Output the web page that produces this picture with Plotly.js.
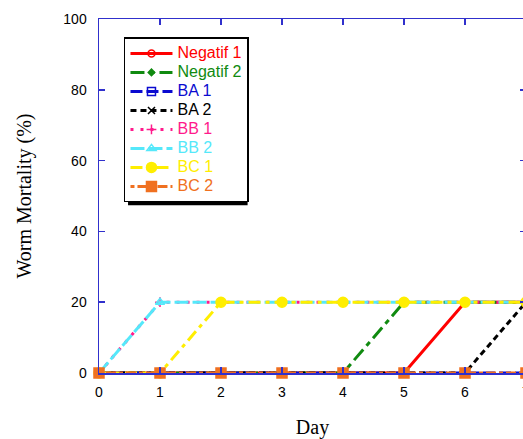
<!DOCTYPE html>
<html>
<head>
<meta charset="utf-8">
<script src="https://cdn.plot.ly/plotly-3.0.1.min.js"></script>
<style>
html,body{margin:0;padding:0;overflow:hidden;background:#fff;}
#chart{width:540px;height:439px;}
</style>
</head>
<body>
<div id="chart"></div>
<script>
const days = [0, 1, 2, 3, 4, 5, 6, 7];
const negatif1 = [0, 0, 0, 0, 0, 0, 20, 20];
const negatif2 = [0, 0, 0, 0, 0, 20, 20, 20];
const ba1 = [0, 0, 0, 0, 0, 0, 0, 0];
const ba2 = [0, 0, 0, 0, 0, 0, 0, 20];
const bb1 = [0, 20, 20, 20, 20, 20, 20, 20];
const bb2 = [0, 20, 20, 20, 20, 20, 20, 20];
const bc1 = [0, 0, 20, 20, 20, 20, 20, 20];
const bc2 = [0, 0, 0, 0, 0, 0, 0, 0];
const seriesNames = ['Negatif 1', 'Negatif 2', 'BA 1', 'BA 2', 'BB 1', 'BB 2', 'BC 1', 'BC 2'];
const yTicks = [0, 20, 40, 60, 80, 100];
const xTicks = [0, 1, 2, 3, 4, 5, 6, 7];

const styles = [
  {color: '#ff0000', dash: 'solid', symbol: 'circle-open', size: 7},
  {color: '#108a10', dash: '14px,5px,5px,5px', symbol: 'diamond', size: 5},
  {color: '#0a0ad0', dash: '12px,4px', symbol: 'square-open', size: 8},
  {color: '#000000', dash: '6px,4px', symbol: 'x-thin-open', size: 7},
  {color: '#ff1a8c', dash: '3px,7px', symbol: 'cross-thin-open', size: 7},
  {color: '#55e8fa', dash: '14px,4px', symbol: 'triangle-up-open', size: 8},
  {color: '#ffee00', dash: '12px,5px,4px,5px', symbol: 'circle', size: 10},
  {color: '#f07020', dash: '4px,3px,10px,3px', symbol: 'square', size: 10}
];
const values = [negatif1, negatif2, ba1, ba2, bb1, bb2, bc1, bc2];

const traces = values.map((v, i) => ({
  x: days, y: v, type: 'scatter', mode: 'lines+markers',
  name: '<span style="font-size:16px;color:' + styles[i].color + '">' + seriesNames[i] + '</span>',
  line: {color: styles[i].color, width: 3, dash: styles[i].dash},
  marker: {color: styles[i].color, symbol: styles[i].symbol, size: styles[i].size,
           line: {color: styles[i].color, width: 1.5}},
  cliponaxis: false
}));

const axisColor = '#3030cc';
const layout = {
  width: 540, height: 439,
  margin: {l: 99, r: 14, t: 19, b: 66},
  paper_bgcolor: '#ffffff', plot_bgcolor: '#ffffff',
  font: {family: 'Arial, Liberation Sans, sans-serif', size: 14, color: '#000'},
  showlegend: true,
  legend: {
    x: 0.0585, y: 0.948, xanchor: 'left', yanchor: 'top',
    bgcolor: '#ffffff', bordercolor: '#000', borderwidth: 1.5,
    font: {family: 'Arial, Liberation Sans, sans-serif', size: 11},
    itemwidth: 42, tracegroupgap: 0
  },
  xaxis: {
    range: [0, 7], tickvals: xTicks, ticktext: xTicks.map(String),
    showgrid: false, zeroline: false,
    showline: true, linecolor: axisColor, linewidth: 1.5, mirror: 'allticks',
    ticks: 'inside', ticklen: 6, tickcolor: axisColor, tickwidth: 1.5,
    ticklabelstandoff: 6,
    tickfont: {size: 14}, title: {text: 'Day', font: {family: 'Times New Roman, Liberation Serif, serif', size: 20}, standoff: 22}
  },
  yaxis: {
    range: [0, 100], tickvals: yTicks, ticktext: yTicks.map(String),
    showgrid: false, zeroline: false,
    showline: true, linecolor: axisColor, linewidth: 1.5, mirror: 'allticks',
    ticks: 'inside', ticklen: 6, tickcolor: axisColor, tickwidth: 1.5,
    ticklabelstandoff: 8,
    tickfont: {size: 14}, title: {text: 'Worm Mortality (%)', font: {family: 'Times New Roman, Liberation Serif, serif', size: 20}, standoff: 26}
  },
  shapes: [{
    type: 'rect', xref: 'paper', yref: 'paper',
    x0: 0.068, x1: 0.348, y0: 0.474, y1: 0.935,
    fillcolor: '#000', line: {width: 0}, layer: 'above'
  }]
};

Plotly.newPlot('chart', traces, layout, {displayModeBar: false, staticPlot: true});
</script>
</body>
</html>
